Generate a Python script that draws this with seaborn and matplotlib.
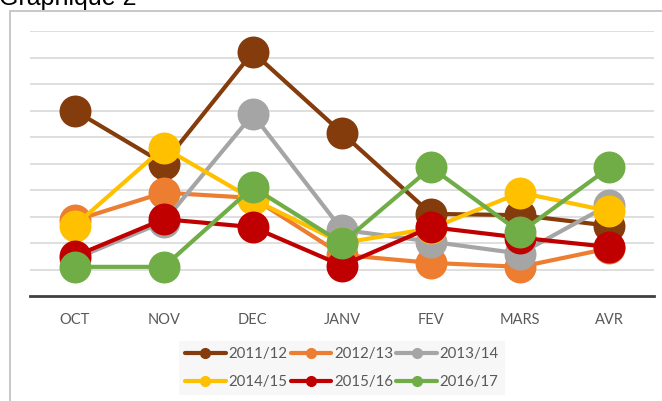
import pandas as pd
import matplotlib.pyplot as plt
import seaborn as sns
from matplotlib.lines import Line2D
from matplotlib.patches import Rectangle

# values (grid step = 1 unit)
mois = ['OCT', 'NOV', 'DEC', 'JANV', 'FEV', 'MARS', 'AVR']
s2011 = [7.0, 5.0, 9.2, 6.15, 3.1, 3.05, 2.65]
s2012 = [2.85, 3.9, 3.7, 1.55, 1.25, 1.1, 1.8]
s2013 = [1.4, 2.8, 6.85, 2.5, 2.05, 1.6, 3.45]
s2014 = [2.65, 5.6, 3.65, 2.0, 2.55, 3.9, 3.2]
s2015 = [1.5, 2.9, 2.6, 1.15, 2.6, 2.2, 1.85]
s2016 = [1.1, 1.1, 4.1, 2.0, 4.85, 2.4, 4.85]

saisons = ['2011/12', '2012/13', '2013/14', '2014/15', '2015/16', '2016/17']
couleurs = ['#843C0C', '#ED7D31', '#A5A5A5', '#FFC000', '#C00000', '#70AD47']


def create_chart():
    series = [s2011, s2012, s2013, s2014, s2015, s2016]
    rows = []
    for saison, vals in zip(saisons, series):
        for m, v in zip(mois, vals):
            rows.append({'mois': m, 'valeur': v, 'saison': saison})
    df = pd.DataFrame(rows)

    sns.set_theme(style="white")
    plt.rcParams['font.family'] = ['Lato', 'DejaVu Sans']

    fig = plt.figure(figsize=(6.62, 4.01), dpi=100)
    W, H = 662, 401
    ax = fig.add_axes([30 / W, (H - 296) / H, 624 / W, 265 / H])

    sns.lineplot(
        data=df, x='mois', y='valeur', hue='saison', hue_order=saisons,
        palette=dict(zip(saisons, couleurs)), marker='o', markersize=23,
        markeredgewidth=0, linewidth=3, sort=False, legend=False, ax=ax
    )

    ax.set_xlim(-0.5, 6.5)
    ax.set_ylim(0, 10)
    ax.set_yticks(range(1, 11))
    ax.set_yticklabels([])
    ax.grid(axis='y', color='#D9D9D9', linewidth=1.2)
    ax.set_axisbelow(True)
    for side in ['top', 'left', 'right']:
        ax.spines[side].set_visible(False)
    ax.spines['bottom'].set_color('#404040')
    ax.spines['bottom'].set_linewidth(2)
    ax.spines['bottom'].set_zorder(0.5)
    ax.tick_params(axis='both', length=0)
    ax.tick_params(axis='x', pad=12, labelsize=10.5, labelcolor='#595959')
    ax.set_xlabel('')
    ax.set_ylabel('')

    # legend below the chart, filled row by row (matplotlib fills by column)
    handles = [Line2D([0], [0], color=c, lw=3, marker='o', markersize=7)
               for c in couleurs]
    order = [0, 3, 1, 4, 2, 5]
    leg = fig.legend(
        [handles[i] for i in order], [saisons[i] for i in order],
        ncol=3, loc='center',
        bbox_to_anchor=(342 / W, (H - 368) / H), frameon=True,
        fontsize=10.8, handlelength=2.7, handletextpad=0.2,
        columnspacing=0.2, labelspacing=0.9, borderpad=0.4
    )
    leg.get_frame().set_facecolor('#F5F5F5')
    leg.get_frame().set_edgecolor('none')
    leg.get_frame().set_boxstyle('square', pad=0)
    for t in leg.get_texts():
        t.set_color('#595959')

    # chart border (cut at the right and bottom)
    fig.patches.append(Rectangle((10 / W, -0.1), 1.0, (H - 11) / H + 0.1,
                                 transform=fig.transFigure, fill=False,
                                 edgecolor='#BFBFBF', linewidth=1.2))

    fig.text(-1 / W, (H - 5) / H, 'Graphique 2', fontsize=18,
             family='Liberation Sans', va='baseline', ha='left', color='black')

    plt.savefig('out.png', dpi=100)


if __name__ == "__main__":
    create_chart()
